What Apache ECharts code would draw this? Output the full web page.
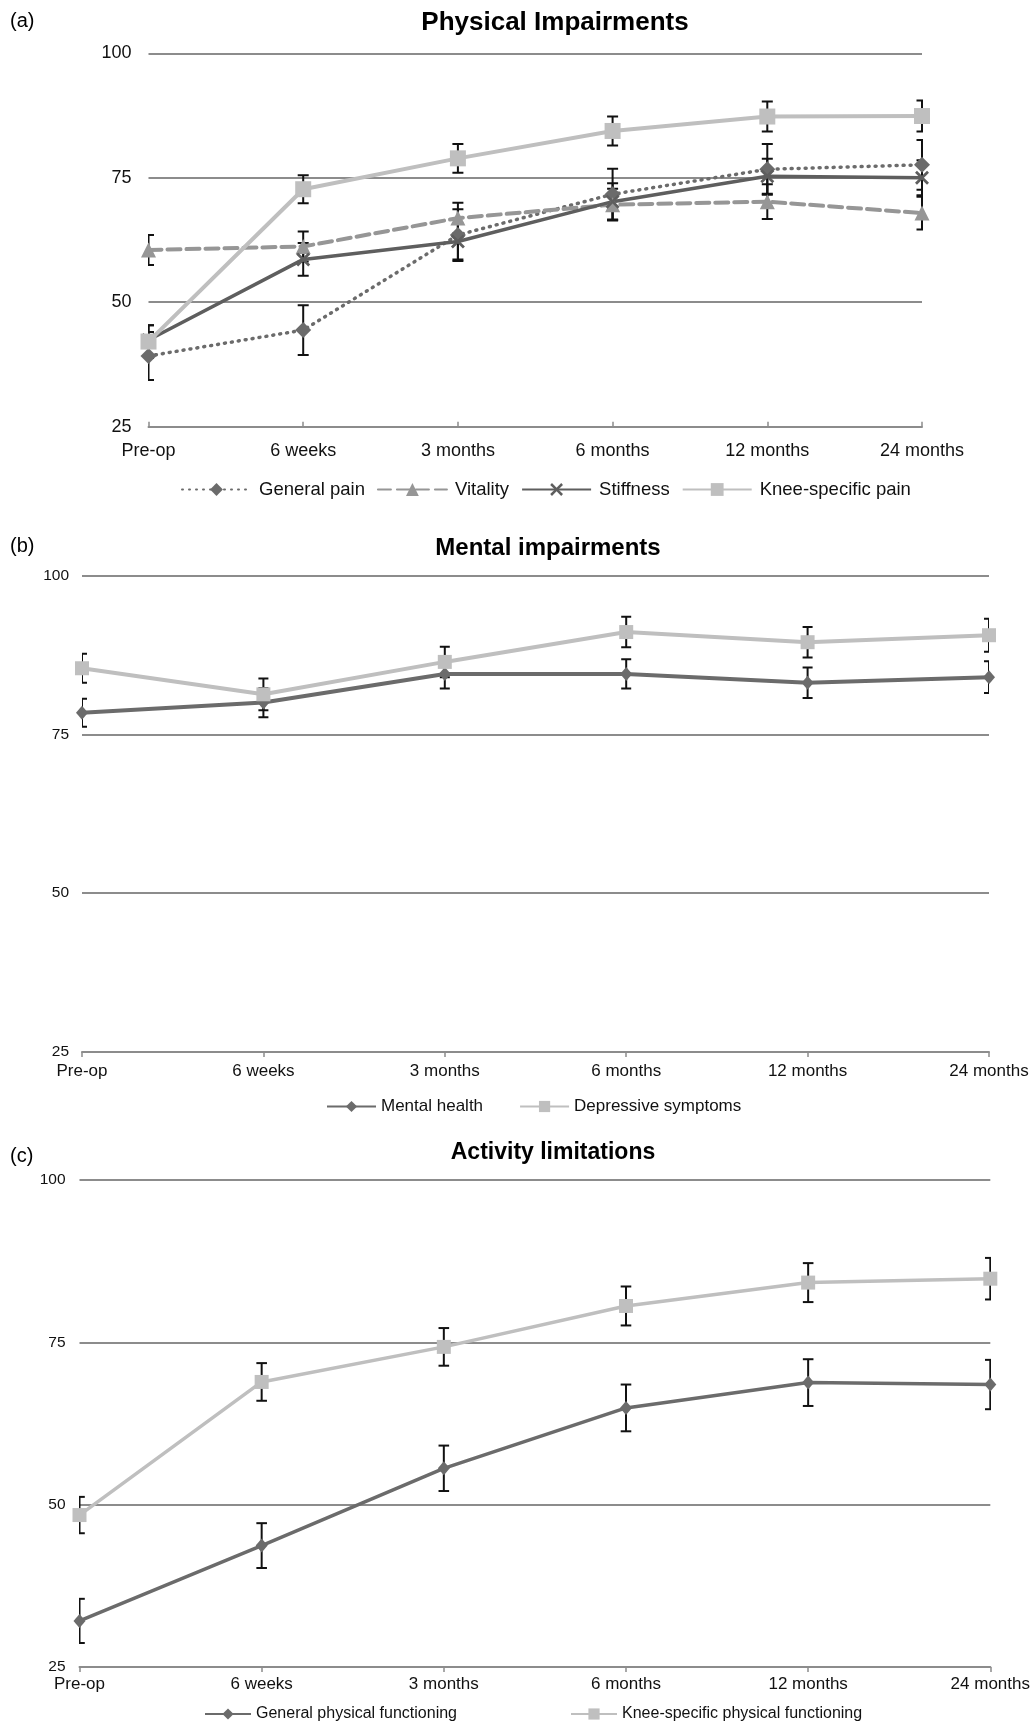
<!DOCTYPE html>
<html>
<head>
<meta charset="utf-8">
<script src="https://cdn.jsdelivr.net/npm/echarts@6/dist/echarts.min.js"></script>
<style>
  html, body { margin: 0; padding: 0; background: #fff; }
  #chart { width: 1033px; height: 1724px; }
</style>
</head>
<body>
<div id="chart"></div>
<script>
// Follow-up time points shared by all three panels
const timePoints = ['Pre-op', '6 weeks', '3 months', '6 months', '12 months', '24 months'];
const yTicks = [25, 50, 75, 100];

// (a) Physical impairments: means and error half-widths
const generalPain = [39.2, 44.4, 63.5, 71.7, 76.7, 77.6];
const generalPainErr = [4.8, 5.0, 5.2, 5.1, 5.1, 5.0];
const vitality = [60.5, 61.2, 66.9, 69.6, 70.2, 67.9];
const vitalityErr = [3.0, 3.0, 3.1, 3.2, 3.5, 3.3];
const stiffness = [42.4, 58.6, 62.2, 70.2, 75.3, 75.0];
const stiffnessErr = [3.0, 3.3, 3.6, 3.7, 3.5, 3.5];
const kneePain = [42.1, 72.7, 78.9, 84.4, 87.3, 87.4];
const kneePainErr = [3.3, 2.8, 2.9, 2.9, 3.0, 3.1];

// (b) Mental impairments
const mentalHealth = [78.4, 80.0, 84.5, 84.5, 83.1, 84.0];
const mentalHealthErr = [2.2, 2.3, 2.3, 2.3, 2.4, 2.5];
const depressive = [85.4, 81.3, 86.4, 91.1, 89.5, 90.6];
const depressiveErr = [2.3, 2.5, 2.4, 2.4, 2.4, 2.6];

// (c) Activity limitations
const generalPhys = [32.1, 43.7, 55.6, 64.9, 68.8, 68.5];
const generalPhysErr = [3.4, 3.45, 3.5, 3.6, 3.6, 3.8];
const kneePhys = [48.4, 68.9, 74.3, 80.6, 84.2, 84.8];
const kneePhysErr = [2.8, 2.9, 2.9, 3.0, 3.0, 3.2];

const FONT = '"Liberation Sans", Arial, sans-serif';
const GRID_GRAY = '#8c8c8c';
const DARK = '#6b6b6b';
const STIFF = '#5e5e5e';
const MID = '#969696';
const LIGHT = '#bfbfbf';

// filled "x" marker
const X_SYMBOL = 'path://M0,1.4L1.4,0L5,3.6L8.6,0L10,1.4L6.4,5L10,8.6L8.6,10L5,6.4L1.4,10L0,8.6L3.6,5Z';

function errRows(means, errs) {
  return means.map((m, i) => [i, m - errs[i], m + errs[i]]);
}

function errorBars(axisIdx, means, errs, capHalf) {
  return {
    type: 'custom',
    xAxisIndex: axisIdx,
    yAxisIndex: axisIdx,
    clip: true,
    z: 1,
    silent: true,
    encode: { x: 0, y: [1, 2] },
    data: errRows(means, errs),
    renderItem: function (params, api) {
      const x = api.value(0);
      const lo = api.coord([x, api.value(1)]);
      const hi = api.coord([x, api.value(2)]);
      const style = { stroke: '#111', lineWidth: 2, fill: null };
      return {
        type: 'group',
        children: [
          { type: 'line', shape: { x1: hi[0], y1: hi[1], x2: lo[0], y2: lo[1] }, style: style },
          { type: 'line', shape: { x1: hi[0] - capHalf, y1: hi[1], x2: hi[0] + capHalf, y2: hi[1] }, style: style },
          { type: 'line', shape: { x1: lo[0] - capHalf, y1: lo[1], x2: lo[0] + capHalf, y2: lo[1] }, style: style }
        ]
      };
    }
  };
}

function lineSeries(axisIdx, name, values, color, width, symbol, size, dash) {
  return {
    type: 'line',
    name: name,
    xAxisIndex: axisIdx,
    yAxisIndex: axisIdx,
    data: values,
    z: 2,
    symbol: symbol,
    symbolSize: size,
    showAllSymbol: true,
    itemStyle: { color: color, borderWidth: 0 },
    lineStyle: { color: color, width: width, type: dash || 'solid', cap: dash ? 'round' : 'butt' },
    emphasis: { disabled: true },
    animation: false
  };
}

function xAxisFor(idx, fontSize, margin, inside) {
  return {
    type: 'category',
    gridIndex: idx,
    data: timePoints,
    boundaryGap: false,
    axisLine: { show: true, lineStyle: { color: GRID_GRAY, width: 2 } },
    axisTick: { show: true, inside: inside, length: 5, lineStyle: { color: GRID_GRAY, width: 1.5 } },
    axisLabel: { fontSize: fontSize, color: '#111', fontFamily: FONT, margin: margin },
    splitLine: { show: false }
  };
}

function yAxisFor(idx, fontSize, margin) {
  return {
    type: 'value',
    gridIndex: idx,
    min: yTicks[0],
    max: yTicks[yTicks.length - 1],
    interval: yTicks[1] - yTicks[0],
    axisLine: { show: false },
    axisTick: { show: false },
    axisLabel: { fontSize: fontSize, color: '#111', fontFamily: FONT, margin: margin },
    splitLine: { show: true, lineStyle: { color: GRID_GRAY, width: 2 } }
  };
}

function heading(text, x, y, size) {
  return {
    type: 'text', x: x, y: y,
    style: { text: text, fontSize: size, fontWeight: 'bold', fontFamily: FONT, fill: '#000', align: 'center', verticalAlign: 'middle' }
  };
}
function panelTag(text, y) {
  return {
    type: 'text', x: 10, y: y,
    style: { text: text, fontSize: 20, fontFamily: FONT, fill: '#000', align: 'left', verticalAlign: 'middle' }
  };
}

const chart = echarts.init(document.getElementById('chart'), null, { renderer: 'canvas' });

chart.setOption({
  animation: false,
  backgroundColor: '#fff',
  grid: [
    { left: 148.5, right: 111, top: 53.3, height: 373.4 },
    { left: 82, right: 44, top: 575.5, height: 476.5 },
    { left: 79.5, right: 42.5, top: 1180, height: 487 }
  ],
  xAxis: [
    xAxisFor(0, 18, 15, true),
    xAxisFor(1, 17, 11, false),
    xAxisFor(2, 17, 9, false)
  ],
  yAxis: [
    yAxisFor(0, 18, 17),
    yAxisFor(1, 15.5, 13),
    yAxisFor(2, 15.5, 14)
  ],
  legend: [
    {
      data: ['General pain', 'Vitality', 'Stiffness', 'Knee-specific pain'],
      left: 176, top: 475, itemWidth: 69, itemHeight: 16, itemGap: 12,
      textStyle: { fontSize: 18.5, color: '#111', fontFamily: FONT, padding: [0, 0, 0, 3] },
      selectedMode: false
    },
    {
      data: ['Mental health', 'Depressive symptoms'],
      left: 321, top: 1093, itemWidth: 49, itemHeight: 14, itemGap: 36,
      textStyle: { fontSize: 17, color: '#111', fontFamily: FONT },
      selectedMode: false
    },
    {
      data: ['General physical functioning', 'Knee-specific physical functioning'],
      left: 199, top: 1701, itemWidth: 46, itemHeight: 14, itemGap: 113,
      textStyle: { fontSize: 16, color: '#111', fontFamily: FONT },
      selectedMode: false
    }
  ],
  graphic: [
    panelTag('(a)', 21),
    heading('Physical Impairments', 555, 23, 26),
    panelTag('(b)', 546),
    heading('Mental impairments', 548, 548, 24),
    panelTag('(c)', 1156),
    heading('Activity limitations', 553, 1153, 23)
  ],
  series: [
    // (a)
    errorBars(0, generalPain, generalPainErr, 5.5),
    errorBars(0, vitality, vitalityErr, 5.5),
    errorBars(0, stiffness, stiffnessErr, 5.5),
    errorBars(0, kneePain, kneePainErr, 5.5),
    lineSeries(0, 'General pain', generalPain, DARK, 3.5, 'diamond', 16, [1, 6]),
    lineSeries(0, 'Vitality', vitality, MID, 4, 'triangle', 15, [13, 6]),
    lineSeries(0, 'Stiffness', stiffness, STIFF, 3.5, X_SYMBOL, 14),
    lineSeries(0, 'Knee-specific pain', kneePain, LIGHT, 4, 'rect', 16),
    // (b)
    errorBars(1, mentalHealth, mentalHealthErr, 5),
    errorBars(1, depressive, depressiveErr, 5),
    lineSeries(1, 'Mental health', mentalHealth, DARK, 4, 'diamond', [12, 14]),
    lineSeries(1, 'Depressive symptoms', depressive, LIGHT, 4, 'rect', 14),
    // (c)
    errorBars(2, generalPhys, generalPhysErr, 5.3),
    errorBars(2, kneePhys, kneePhysErr, 5.3),
    lineSeries(2, 'General physical functioning', generalPhys, DARK, 3.5, 'diamond', [12, 14]),
    lineSeries(2, 'Knee-specific physical functioning', kneePhys, LIGHT, 3.5, 'rect', 14)
  ]
});
</script>
</body>
</html>
